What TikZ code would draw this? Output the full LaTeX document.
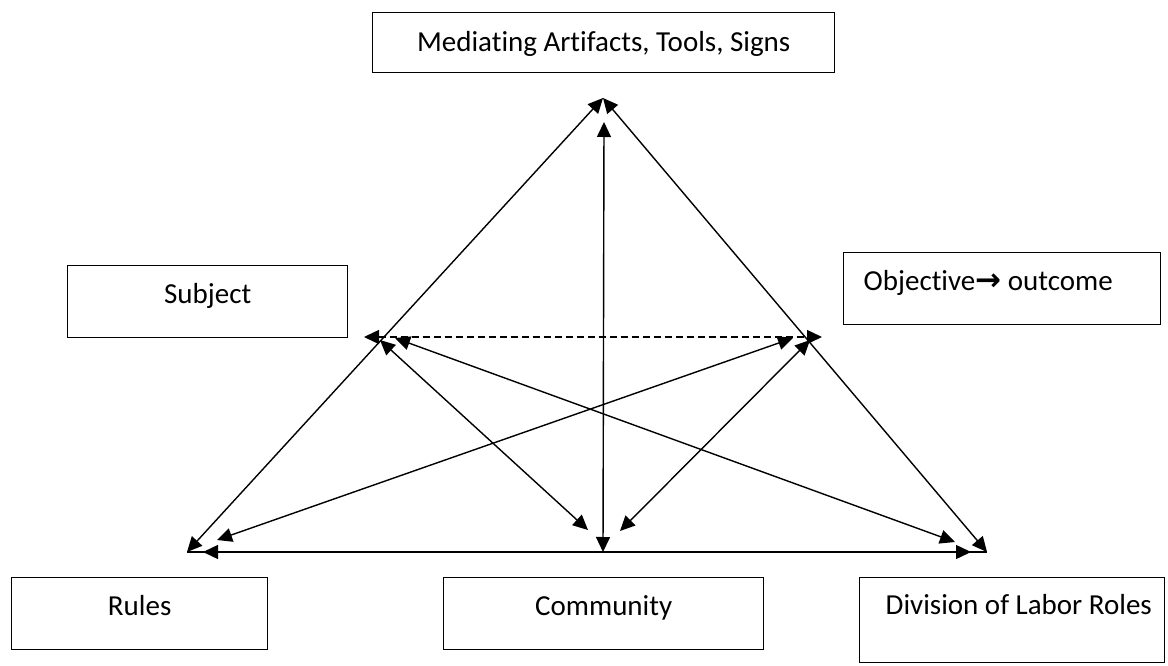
\documentclass[tikz,border=0pt]{standalone}
\usepackage{fontspec}
\setmainfont{Carlito}[Ligatures=NoCommon]
\newfontfamily\symfont{DejaVu Sans}
\usetikzlibrary{arrows.meta,decorations.markings}
\tikzset{
  box/.style={draw, line width=1.4pt, inner sep=0pt, anchor=north west,
    font=\fontsize{29pt}{34pt}\selectfont},
  tipd/.tip={Triangle[length=15pt,width=14pt]},
  link/.style={line width=1.4pt, {tipd}-{tipd}},
  dlink/.style={link, dash pattern=on 7pt off 4pt},
  hlink/.style={line width=1.4pt, postaction={decorate}, decoration={markings,
    mark=at position 16pt with {\arrowreversed{tipd}},
    mark=at position -16pt with {\arrow{tipd}}}}
}
\begin{document}
\begin{tikzpicture}[x=1pt,y=-1pt]
\useasboundingbox (0,0) rectangle (1168,666);
% boxes
\node[box, minimum width=462pt, text height=39pt, text depth=21pt] (med) at (372,12) {Mediating Artifacts, Tools, Signs};
\node[box, minimum width=280pt, text height=38pt, text depth=34pt] (subj) at (67,265) {Subject};
\node[box, text height=38pt, text depth=34pt] (obj) at (843,252) {\makebox[317pt][l]{\hspace*{20pt}Objective{\symfont\bfseries\fontsize{31pt}{34pt}\selectfont →} outcome}};
\node[box, minimum width=256pt, text height=38pt, text depth=34pt] (rules) at (11,577) {Rules};
\node[box, minimum width=320pt, text height=38pt, text depth=34pt] (comm) at (443,577) {Community};
\node[box, text height=37pt, text depth=48pt] (div) at (859,577) {\makebox[305pt][l]{\hspace*{26pt}Division of Labor Roles}};
% points
\coordinate (A) at (603,98);
\coordinate (Vt) at (604,122);
\coordinate (BL) at (187,552);
\coordinate (BR) at (987,552);
\coordinate (BC) at (603,552);
\coordinate (Ld) at (364,337);
\coordinate (Rd) at (822,337);
\coordinate (L1) at (380,340);
\coordinate (C1) at (588,530);
\coordinate (R1) at (810,340);
\coordinate (C2) at (620,531);
\coordinate (L2) at (395,338);
\coordinate (BR2) at (955,542);
\coordinate (R2) at (793,338);
\coordinate (BL2) at (217,540);
% connectors
\draw[link] (A) -- (BL);
\draw[link] (A) -- (BR);
\draw[link] (Vt) -- (BC);
\draw[hlink] (BL) -- (BR);
\draw[dlink] (Ld) -- (Rd);
\draw[link] (L1) -- (C1);
\draw[link] (R1) -- (C2);
\draw[link] (L2) -- (BR2);
\draw[link] (R2) -- (BL2);
\end{tikzpicture}
\end{document}
